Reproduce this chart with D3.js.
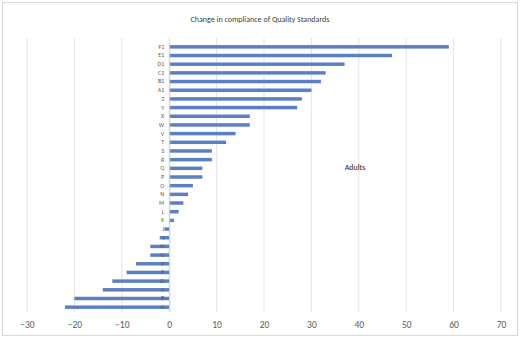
<!DOCTYPE html>
<html><head><meta charset="utf-8">
<script src="https://cdn.jsdelivr.net/npm/d3@7"></script>
<style>body{margin:0;background:#fff;}svg{display:block;font-family:Calibri,Carlito,"Open Sans",sans-serif;}</style>
</head><body>
<svg id="c" width="520" height="338"></svg>
<script>
const categories = ["F1","E1","D1","C1","B1","A1","Z","Y","X","W","V","T","S","R","Q","P","O","N","M","L","K","J","I","H","G","F","E","D","C","B","A"];
const values = [59,47,37,33,32,30,28,27,17,17,14,12,9,9,7,7,5,4,3,2,1,-1,-2,-4,-4,-7,-9,-12,-14,-20,-22];
const xTicks = [-30,-20,-10,0,10,20,30,40,50,60,70];
const title = "Change in compliance of Quality Standards";
const note = "Adults";

const svg = d3.select("#c");
svg.append("rect").attr("x",2.5).attr("y",2.5).attr("width",515).attr("height",333)
  .attr("fill","#fff").attr("stroke","#d9d9d9");

const x = d3.scaleLinear().domain([-30,70]).range([27,501]);
const y = d3.scaleBand().domain(categories).range([42.5,311.5]).paddingInner(0.6).paddingOuter(0.3);

// gridlines
svg.append("g").selectAll("line").data(xTicks).join("line")
  .attr("x1",d=>x(d)).attr("x2",d=>x(d)).attr("y1",38).attr("y2",312)
  .attr("stroke","#e3e3e3").attr("stroke-width",1);

// bars
svg.append("g").selectAll("rect").data(values).join("rect")
  .attr("x",d=>x(Math.min(0,d)))
  .attr("width",d=>Math.abs(x(d)-x(0)))
  .attr("y",(d,i)=>y(categories[i]))
  .attr("height",y.bandwidth())
  .attr("fill","#5b7fc4");

// x axis labels
const xa = svg.append("g").attr("transform","translate(0,312)")
  .call(d3.axisBottom(x).tickValues(xTicks).tickSize(0).tickPadding(9).tickFormat(d3.format("d")));
xa.select(".domain").remove();
xa.selectAll("text").attr("fill","#595959").attr("font-size",9.5).attr("font-family","Calibri,Carlito,'Open Sans',sans-serif");

// y axis labels at zero
const ya = svg.append("g").attr("transform",`translate(${x(0)},0)`)
  .call(d3.axisLeft(y).tickSize(0).tickPadding(5));
ya.select(".domain").attr("stroke","#d0d0d0");
ya.selectAll("text").attr("fill","#595959").attr("font-size",6).attr("font-family","Calibri,Carlito,'Open Sans',sans-serif");

svg.append("text").attr("x",260).attr("y",21.5).attr("text-anchor","middle")
  .attr("font-size",8).attr("fill","#404040").text(title);
svg.append("text").attr("x",355).attr("y",170).attr("text-anchor","middle")
  .attr("font-size",8).attr("fill","#222").text(note);
</script>
</body></html>
